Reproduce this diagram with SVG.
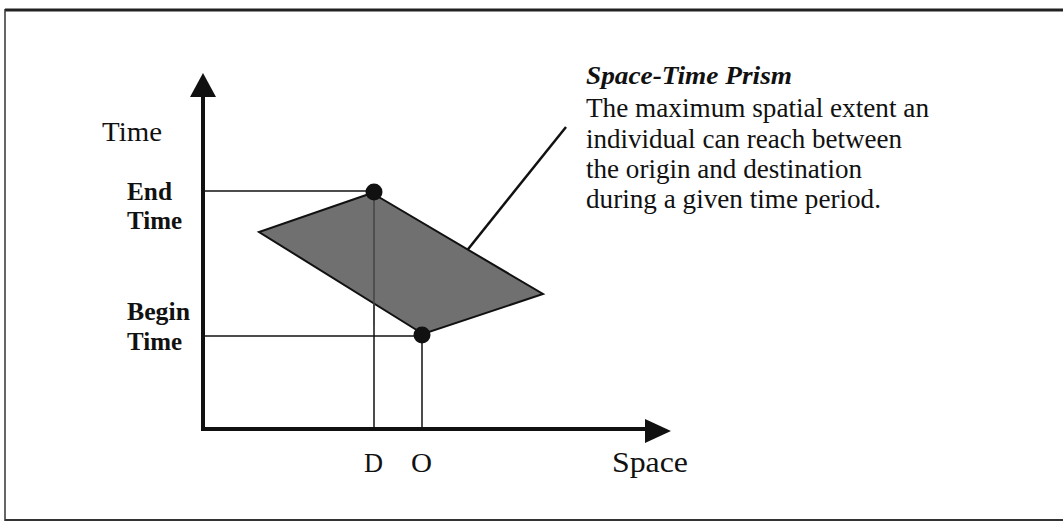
<svg xmlns="http://www.w3.org/2000/svg" width="1063" height="525" viewBox="0 0 1063 525">
<style>
.serif{font-family:"Liberation Serif","Times New Roman",serif;fill:#111}
.lbl{font-size:25px;font-weight:bold}
.body{font-size:27px}
.thin{stroke:#111;stroke-width:1.5;fill:none}
.axis{stroke:#111;stroke-width:4;fill:none}
</style>
<rect width="1063" height="525" fill="#fff"/>
<g id="frame">
<line x1="5" y1="10" x2="1063" y2="10" stroke="#222" stroke-width="3"/>
<line x1="5" y1="9" x2="5" y2="521" stroke="#333" stroke-width="1.5"/>
<line x1="5" y1="520" x2="1063" y2="520" stroke="#333" stroke-width="2"/>
</g>
<g id="connectors">
<line class="thin" x1="203" y1="191" x2="374" y2="191"/>
<line class="thin" x1="203" y1="336" x2="422" y2="336"/>
<line class="thin" x1="374" y1="192" x2="374" y2="430"/>
<line class="thin" x1="422" y1="336" x2="422" y2="430"/>
<line x1="566" y1="127" x2="461" y2="258" stroke="#111" stroke-width="2.5"/>
</g>
<g id="prism">
<polygon points="372,193 259,232 423,334 543,294" fill="#707070" stroke="#111" stroke-width="2"/>
<line x1="374" y1="193" x2="374" y2="326" stroke="#444" stroke-width="1.5"/>
</g>
<g id="axes">
<polyline class="axis" points="203,96 203,429 646,429"/>
<polygon points="203,73 190,97 216,97" fill="#111"/>
<polygon points="671,431 645,419 645,443" fill="#111"/>
</g>
<g id="endpoint">
<circle cx="374" cy="192" r="8.5" fill="#111"/>
</g>
<g id="beginpoint">
<circle cx="422" cy="335" r="8.5" fill="#111"/>
</g>
<g id="labels">
<text class="serif" x="102" y="141" font-size="28" textLength="60" lengthAdjust="spacingAndGlyphs">Time</text>
<text class="serif lbl" x="127" y="200" textLength="45" lengthAdjust="spacingAndGlyphs">End</text>
<text class="serif lbl" x="127" y="229" textLength="55" lengthAdjust="spacingAndGlyphs">Time</text>
<text class="serif lbl" x="127" y="320" textLength="63" lengthAdjust="spacingAndGlyphs">Begin</text>
<text class="serif lbl" x="127" y="350" textLength="55" lengthAdjust="spacingAndGlyphs">Time</text>
<text class="serif" x="364" y="472" font-size="27" textLength="19" lengthAdjust="spacingAndGlyphs">D</text>
<text class="serif" x="411" y="472" font-size="27" textLength="21" lengthAdjust="spacingAndGlyphs">O</text>
<text class="serif" x="612" y="472" font-size="29" textLength="76" lengthAdjust="spacingAndGlyphs">Space</text>
</g>
<g id="description">
<text class="serif" x="586" y="84" font-size="26" font-weight="bold" font-style="italic" textLength="206" lengthAdjust="spacingAndGlyphs">Space-Time Prism</text>
<text class="serif body" x="586" y="117" textLength="343" lengthAdjust="spacingAndGlyphs">The maximum spatial extent an</text>
<text class="serif body" x="586" y="148" textLength="316" lengthAdjust="spacingAndGlyphs">individual can reach between</text>
<text class="serif body" x="586" y="178" textLength="276" lengthAdjust="spacingAndGlyphs">the origin and destination</text>
<text class="serif body" x="586" y="208" textLength="295" lengthAdjust="spacingAndGlyphs">during a given time period.</text>
</g>
</svg>
